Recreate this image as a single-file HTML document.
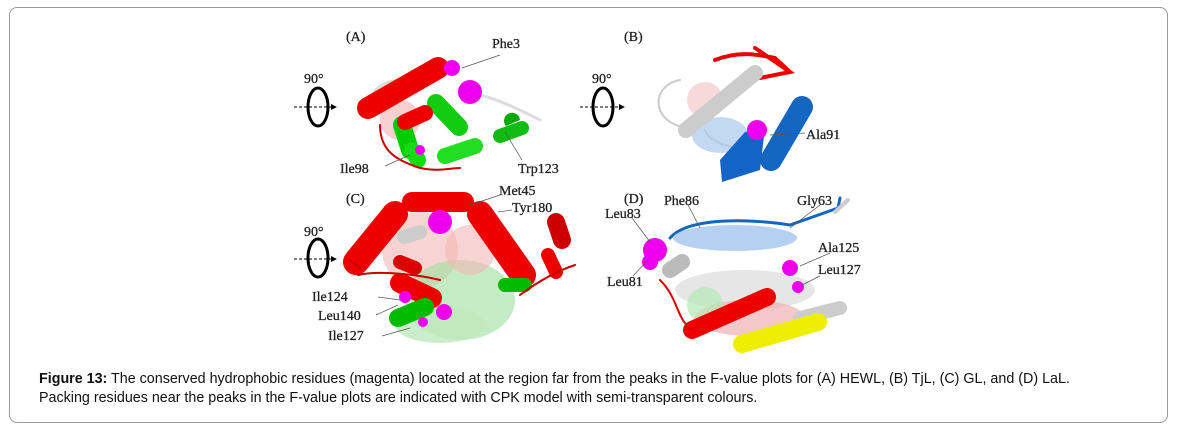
<!DOCTYPE html>
<html><head><meta charset="utf-8"><style>
body{margin:0;background:#fff;width:1177px;height:431px;overflow:hidden;font-family:"Liberation Sans",sans-serif}
.box{position:absolute;left:9px;top:7px;width:1157px;height:414px;border:1px solid #9a9a9a;border-radius:8px}
.cap{position:absolute;left:39px;top:370px;font-size:14.3px;line-height:19px;color:#111;width:1120px}
svg{position:absolute;left:0;top:0}
.l{font-family:"Liberation Serif",serif;font-size:14px;fill:#222;stroke:#222;stroke-width:0.3}
</style></head><body>
<div class="box"></div>
<svg width="1177" height="431">
<defs><marker id="ah" markerWidth="6" markerHeight="6" refX="5" refY="3" orient="auto"><path d="M0,0L6,3L0,6z" fill="#000"/></marker></defs>
<g fill="none" stroke="#000">
<text class="l" x="304" y="83">90°</text>
<ellipse cx="318" cy="107" rx="10" ry="19" stroke-width="3"/>
<line x1="294" y1="107" x2="336" y2="107" stroke-dasharray="3,2" marker-end="url(#ah)"/>
<text class="l" x="592" y="83">90°</text>
<ellipse cx="603" cy="107" rx="10" ry="19" stroke-width="3"/>
<line x1="580" y1="107" x2="624" y2="107" stroke-dasharray="3,2" marker-end="url(#ah)"/>
<text class="l" x="304" y="236">90°</text>
<ellipse cx="318" cy="258" rx="10" ry="19" stroke-width="3"/>
<line x1="294" y1="259" x2="336" y2="259" stroke-dasharray="3,2" marker-end="url(#ah)"/>
</g>
<text class="l" x="346" y="41">(A)</text><text class="l" x="624" y="41">(B)</text>
<text class="l" x="346" y="203">(C)</text><text class="l" x="624" y="203">(D)</text>
<!-- A -->
<g stroke-linecap="round">
<path d="M372,95 C380,80 400,80 410,78 M480,95 C500,100 520,110 540,120" stroke="#ddd" stroke-width="3" fill="none"/>
<circle cx="400" cy="120" r="20" fill="#f4b0b0" opacity=".6"/>
<line x1="402" y1="125" x2="410" y2="150" stroke="#0c0" stroke-width="18"/>
<line x1="436" y1="103" x2="459" y2="127" stroke="#1c1" stroke-width="18"/>
<line x1="412" y1="150" x2="418" y2="160" stroke="#1d1" stroke-width="16"/>
<line x1="445" y1="156" x2="475" y2="146" stroke="#2d2" stroke-width="16"/>
<line x1="500" y1="136" x2="522" y2="128" stroke="#1b1" stroke-width="14"/>
<path d="M506,126 a8,8 0 1,1 14,-6z" fill="#0a0"/>
<line x1="368" y1="108" x2="438" y2="68" stroke="#e00" stroke-width="22"/>
<line x1="405" y1="122" x2="425" y2="113" stroke="#e00" stroke-width="16"/>
<circle cx="470" cy="92" r="12" fill="#e0e"/><circle cx="452" cy="68" r="8" fill="#e0e"/><circle cx="420" cy="150" r="5" fill="#e0e"/>
<path d="M380,125 C380,150 395,160 420,168 C440,172 450,168 460,168" stroke="#c00" stroke-width="2" fill="none"/>
</g>
<g stroke="#555" stroke-width="0.7"><line x1="462" y1="68" x2="500" y2="55"/><line x1="385" y1="166" x2="410" y2="155"/><line x1="505" y1="132" x2="522" y2="160"/></g>
<text class="l" x="492" y="48">Phe3</text><text class="l" x="340" y="173">Ile98</text><text class="l" x="518" y="173">Trp123</text>
<!-- B -->
<g stroke-linecap="round">
<path d="M715,60 C740,50 760,55 775,58 L790,72 M755,48 L790,72 L760,78" stroke="#e00" stroke-width="4" fill="none"/>
<path d="M680,80 C650,85 650,125 690,128 M705,130 C710,145 740,150 760,150" stroke="#ccc" stroke-width="2" fill="none"/>
<circle cx="705" cy="100" r="18" fill="#f3c0c0" opacity=".6"/>
<ellipse cx="720" cy="135" rx="28" ry="18" fill="#aac8ee" opacity=".7"/>
<path d="M720,160 L745,132 L765,128 L760,170 L722,182z" fill="#1464c8"/>
<line x1="771" y1="160" x2="802" y2="107" stroke="#1466c0" stroke-width="22"/>
<line x1="686" y1="130" x2="755" y2="73" stroke="#ccc" stroke-width="16"/>
<circle cx="757" cy="130" r="10" fill="#e0e"/>
</g>
<line x1="770" y1="135" x2="805" y2="133" stroke="#555" stroke-width="0.7"/>
<text class="l" x="806" y="139">Ala91</text>
<!-- C -->
<g stroke-linecap="round">
<circle cx="420" cy="250" r="38" fill="#f3b5b5" opacity=".6"/>
<ellipse cx="460" cy="300" rx="55" ry="40" fill="#9de09d" opacity=".6"/>
<circle cx="470" cy="250" r="25" fill="#f3b5b5" opacity=".6"/>
<ellipse cx="440" cy="325" rx="45" ry="18" fill="#bfe8bf" opacity=".8"/>
<line x1="412" y1="202" x2="464" y2="202" stroke="#e00" stroke-width="20"/>
<line x1="356" y1="262" x2="395" y2="214" stroke="#e00" stroke-width="26"/>
<line x1="480" y1="214" x2="523" y2="275" stroke="#e00" stroke-width="26"/>
<line x1="556" y1="222" x2="562" y2="240" stroke="#c00" stroke-width="18"/>
<line x1="548" y1="255" x2="556" y2="272" stroke="#e00" stroke-width="14"/>
<line x1="400" y1="283" x2="432" y2="298" stroke="#e00" stroke-width="20"/>
<line x1="398" y1="318" x2="425" y2="307" stroke="#0b0" stroke-width="18"/>
<line x1="505" y1="285" x2="525" y2="285" stroke="#0b0" stroke-width="14"/>
<line x1="400" y1="262" x2="415" y2="268" stroke="#d00" stroke-width="14"/>
<line x1="404" y1="237" x2="420" y2="232" stroke="#ccc" stroke-width="14"/>
<path d="M360,268 L350,260 M358,275 C380,270 420,275 440,280 M520,295 C540,280 560,270 575,265" stroke="#c00" stroke-width="2" fill="none"/>
<circle cx="440" cy="222" r="12" fill="#e0e"/><circle cx="405" cy="297" r="6" fill="#e0e"/><circle cx="444" cy="312" r="8" fill="#e0e"/><circle cx="423" cy="322" r="5" fill="#e0e"/>
</g>
<g stroke="#555" stroke-width="0.7"><line x1="470" y1="205" x2="500" y2="195"/><line x1="498" y1="212" x2="512" y2="210"/><line x1="378" y1="297" x2="400" y2="300"/><line x1="376" y1="315" x2="398" y2="305"/><line x1="382" y1="336" x2="410" y2="328"/></g>
<text class="l" x="499" y="195">Met45</text><text class="l" x="512" y="212">Tyr180</text>
<text class="l" x="312" y="301">Ile124</text><text class="l" x="318" y="320">Leu140</text><text class="l" x="328" y="340">Ile127</text>
<!-- D -->
<g stroke-linecap="round">
<path d="M670,238 C690,215 760,220 790,225 L838,208 L840,198" stroke="#1466c0" stroke-width="3" fill="none"/>
<path d="M835,212 L848,200" stroke="#ccc" stroke-width="4"/>
<ellipse cx="735" cy="238" rx="62" ry="13" fill="#a9c8ee" opacity=".85"/>
<ellipse cx="745" cy="290" rx="70" ry="20" fill="#e0e0e0" opacity=".8"/>
<ellipse cx="750" cy="318" rx="55" ry="18" fill="#f0b0b0" opacity=".7"/>
<circle cx="705" cy="305" r="18" fill="#b5e8b5" opacity=".7"/>
<circle cx="655" cy="250" r="12" fill="#e0e"/><circle cx="650" cy="262" r="8" fill="#e0e"/>
<circle cx="790" cy="268" r="8" fill="#e0e"/><circle cx="798" cy="287" r="6" fill="#e0e"/>
<line x1="670" y1="270" x2="682" y2="262" stroke="#bbb" stroke-width="16"/>
<line x1="692" y1="330" x2="767" y2="297" stroke="#e00" stroke-width="18"/>
<line x1="800" y1="318" x2="840" y2="308" stroke="#ccc" stroke-width="14"/>
<line x1="742" y1="344" x2="818" y2="322" stroke="#ee0" stroke-width="18"/>
<path d="M660,280 C680,300 675,320 695,332" stroke="#d00" stroke-width="2" fill="none"/>
</g>
<g stroke="#555" stroke-width="0.7"><line x1="688" y1="205" x2="700" y2="228"/><line x1="820" y1="205" x2="790" y2="228"/><line x1="632" y1="218" x2="650" y2="242"/><line x1="830" y1="253" x2="800" y2="266"/><line x1="820" y1="276" x2="802" y2="285"/><line x1="633" y1="276" x2="648" y2="260"/></g>
<text class="l" x="664" y="205">Phe86</text><text class="l" x="797" y="205">Gly63</text>
<text class="l" x="605" y="218">Leu83</text><text class="l" x="818" y="252">Ala125</text>
<text class="l" x="818" y="274">Leu127</text><text class="l" x="607" y="286">Leu81</text>
</svg>
<div class="cap"><b>Figure 13:</b> The conserved hydrophobic residues (magenta) located at the region far from the peaks in the F-value plots for (A) HEWL, (B) TjL, (C) GL, and (D) LaL.<br>Packing residues near the peaks in the F-value plots are indicated with CPK model with semi-transparent colours.</div>
</body></html>
